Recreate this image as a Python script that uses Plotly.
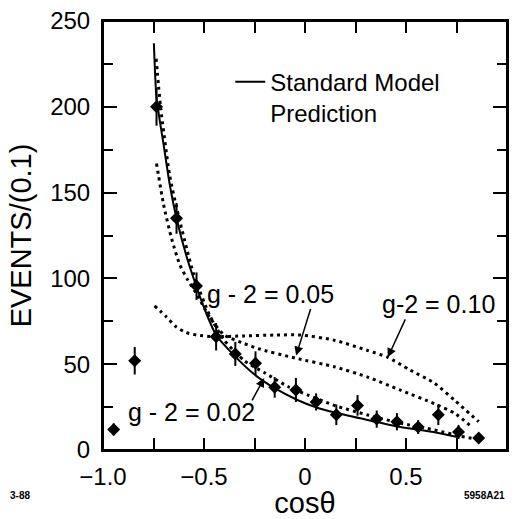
import plotly.graph_objects as go
from plotly.subplots import make_subplots

# ---- data ----
cos_data = [-0.947, -0.843, -0.735, -0.636, -0.537, -0.44, -0.345, -0.245, -0.15,
            -0.045, 0.055, 0.155, 0.26, 0.355, 0.455, 0.56, 0.66, 0.76, 0.86]
events = [12, 52, 200, 135, 95.5, 66, 56, 50.5, 36.5,
          35, 28, 20.5, 26, 18, 16.5, 13.4, 20.5, 10.5, 7]
errors = [3.5, 8, 11, 9, 8, 8, 7, 7, 6,
          7, 5, 6, 6, 5, 5, 4, 6, 4, 3]

sm_x = [-0.748, -0.735, -0.70, -0.67, -0.636, -0.587, -0.537, -0.49, -0.44, -0.35,
        -0.25, -0.15, -0.035, 0.064, 0.143, 0.31, 0.473, 0.636, 0.755]
sm_y = [237, 205, 178, 155, 135, 113, 95, 80, 67, 55,
        44, 36, 29, 24.5, 22, 17.5, 13.4, 10.5, 7.6]

g02_x = [-0.737, -0.715, -0.67, -0.625, -0.55, -0.47, -0.40, -0.30, -0.20, -0.085,
         0.015, 0.145, 0.31, 0.47, 0.64, 0.77, 0.87]
g02_y = [228, 200, 160, 136, 102, 78, 64, 52, 45, 37,
         32, 26, 20.4, 15.7, 11.7, 8, 6]

g05_x = [-0.735, -0.70, -0.66, -0.62, -0.58, -0.537, -0.47, -0.40, -0.30, -0.23,
         -0.05, 0.145, 0.31, 0.47, 0.64, 0.74, 0.83]
g05_y = [167, 143, 123, 108, 99, 91, 77, 67, 62, 59,
         53.6, 48.5, 42.5, 35, 27, 21.5, 13]

g10_x = [-0.745, -0.69, -0.64, -0.59, -0.537, -0.45, -0.30, -0.15, -0.02, 0.145,
         0.31, 0.41, 0.52, 0.64, 0.74, 0.86]
g10_y = [84, 78, 72, 68.5, 67, 66, 66.5, 67, 67, 64,
         58, 54, 46.6, 39, 29, 16.5]

x_ticks = [-1.0, -0.75, -0.5, -0.25, 0.0, 0.25, 0.5, 0.75, 1.0]
x_ticktext = ["\u22121.0", "", "\u22120.5", "", "0", "", "0.5", "", "1.0"]
y_ticks = [0, 50, 100, 150, 200, 250]
y_ticktext = ["0", "50", "100", "150", "200", "250"]

FONT = "Liberation Sans"
BLACK = "black"

fig = make_subplots(rows=1, cols=1)

for gx, gy in [(g02_x, g02_y), (g05_x, g05_y), (g10_x, g10_y)]:
    fig.add_trace(go.Scatter(x=gx, y=gy, mode="lines",
                             line=dict(color=BLACK, width=3, dash="3px,4px", shape="spline", smoothing=0.6),
                             showlegend=False), row=1, col=1)

fig.add_trace(go.Scatter(x=sm_x, y=sm_y, mode="lines",
                         line=dict(color=BLACK, width=2, shape="spline", smoothing=0.6),
                         name="Standard Model<br>Prediction", showlegend=True), row=1, col=1)

fig.add_trace(go.Scatter(x=cos_data, y=events, mode="markers",
                         marker=dict(symbol="diamond", size=10, color=BLACK),
                         error_y=dict(type="data", array=errors, color=BLACK, thickness=2, width=0),
                         showlegend=False), row=1, col=1)

ann_font = dict(family=FONT, size=25, color=BLACK)
fig.add_annotation(x=-0.56, y=22, xref="x", yref="y", text="g - 2 = 0.02", showarrow=False, font=ann_font)
fig.add_annotation(x=-0.17, y=91, xref="x", yref="y", text="g - 2 = 0.05", showarrow=False, font=ann_font)
fig.add_annotation(x=0.66, y=85, xref="x", yref="y", text="g-2 = 0.10", showarrow=False, font=ann_font)
for hx, hy, tx, ty in [(-0.202, 42, -0.266, 28), (-0.044, 55, 0.03, 83), (0.41, 54, 0.50, 77)]:
    fig.add_annotation(x=hx, y=hy, ax=tx, ay=ty, xref="x", yref="y", axref="x", ayref="y", text="",
                       showarrow=True, arrowhead=2, arrowsize=1.2, arrowwidth=1.5, arrowcolor=BLACK)
fig.add_annotation(xref="paper", yref="paper", x=-0.235, y=-0.105, xanchor="left", yanchor="middle",
                   text="<b>3-88</b>", showarrow=False, font=dict(family=FONT, size=10, color=BLACK))
fig.add_annotation(xref="paper", yref="paper", x=1.0, y=-0.105, xanchor="right", yanchor="middle",
                   text="<b>5958A21</b>", showarrow=False, font=dict(family=FONT, size=10, color=BLACK))

# plot frame (safety, coincides with the axis lines)
fig.add_shape(type="rect", xref="paper", yref="paper", x0=0, x1=1, y0=0, y1=1,
              line=dict(color=BLACK, width=2), layer="above")

fig.update_xaxes(range=[-1.0, 1.0], tickmode="array", tickvals=x_ticks, ticktext=x_ticktext,
                 ticks="inside", ticklen=12, tickwidth=2, tickcolor=BLACK,
                 showline=True, linewidth=2, linecolor=BLACK, mirror="allticks",
                 showgrid=False, zeroline=False, ticklabelstandoff=4,
                 title=dict(text="cos\u03b8", standoff=0), row=1, col=1)
fig.update_yaxes(range=[0, 250], tickmode="array", tickvals=y_ticks, ticktext=y_ticktext,
                 ticks="inside", ticklen=14, tickwidth=2, tickcolor=BLACK,
                 minor=dict(dtick=25, ticks="inside", ticklen=10, tickwidth=2, tickcolor=BLACK),
                 showline=True, linewidth=2, linecolor=BLACK, mirror="allticks",
                 showgrid=False, zeroline=False, ticklabelstandoff=6,
                 title=dict(text="EVENTS/(0.1)", standoff=10), row=1, col=1)

fig.update_layout(
    template="none",
    width=519, height=519,
    margin=dict(l=103, r=12, t=21, b=69),
    paper_bgcolor="white", plot_bgcolor="white",
    font=dict(family=FONT, size=24, color=BLACK),
    legend=dict(x=0.315, y=0.91, xanchor="left", yanchor="top", bgcolor="rgba(0,0,0,0)",
                font=dict(family=FONT, size=24, color=BLACK), itemwidth=30, valign="top"),
)

fig.write_html("out.html")
